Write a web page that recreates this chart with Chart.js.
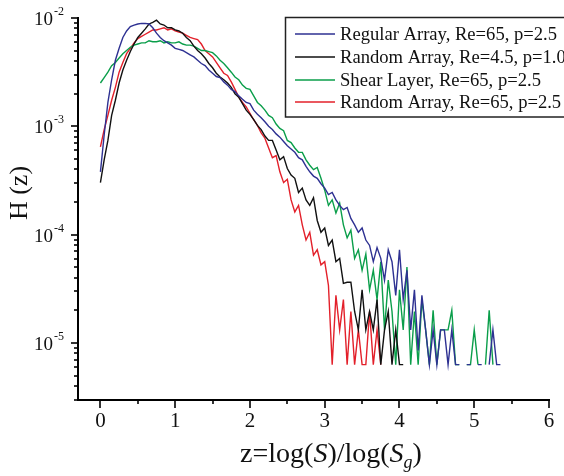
<!DOCTYPE html>
<html>
<head>
<meta charset="utf-8">
<script src="https://cdn.jsdelivr.net/npm/chart.js@4.4.0/dist/chart.umd.min.js"></script>
<style>
  html, body { margin: 0; padding: 0; background: #fff; }
  #wrap { width: 564px; height: 476px; }
</style>
</head>
<body>
<div id="wrap"><canvas id="hz"></canvas></div>
<script>
// z = log(S)/log(Sg) sample points
const zValues = [
  0, 0.05, 0.1, 0.15, 0.2, 0.25, 0.3, 0.35, 0.4, 0.45,
  0.5, 0.55, 0.6, 0.65, 0.7, 0.75, 0.8, 0.85, 0.9, 0.95,
  1, 1.05, 1.1, 1.15, 1.2, 1.25, 1.3, 1.35, 1.4, 1.45,
  1.5, 1.55, 1.6, 1.65, 1.7, 1.75, 1.8, 1.85, 1.9, 1.95,
  2, 2.05, 2.1, 2.15, 2.2, 2.25, 2.3, 2.35, 2.4, 2.45,
  2.5, 2.55, 2.6, 2.65, 2.7, 2.75, 2.8, 2.85, 2.9, 2.95,
  3, 3.05, 3.1, 3.15, 3.2, 3.25, 3.3, 3.35, 3.4, 3.45,
  3.5, 3.55, 3.6, 3.65, 3.7, 3.75, 3.8, 3.85, 3.9, 3.95,
  4, 4.05, 4.1, 4.15, 4.2, 4.25, 4.3, 4.35, 4.4, 4.45,
  4.5, 4.55, 4.6, 4.65, 4.7, 4.75, 4.8, 4.85, 4.9, 4.95,
  5, 5.05, 5.1, 5.15, 5.2, 5.25, 5.3, 5.35
];

// H(z) for each case (null = nothing plotted)
const regularArray = [
  3.80e-4, 8.32e-4, 1.66e-3, 2.69e-3, 4.07e-3, 5.25e-3, 6.61e-3, 7.59e-3, 8.32e-3, 8.61e-3,
  8.81e-3, 8.91e-3, 8.91e-3, 8.81e-3, 8.13e-3, 7.24e-3, 6.61e-3, 6.17e-3, 5.89e-3, 5.62e-3,
  5.25e-3, 5.13e-3, 5.01e-3, 4.79e-3, 4.57e-3, 4.37e-3, 4.07e-3, 3.80e-3, 3.63e-3, 3.31e-3,
  3.09e-3, 2.88e-3, 2.82e-3, 2.57e-3, 2.40e-3, 2.19e-3, 2.09e-3, 1.91e-3, 1.78e-3, 1.66e-3,
  1.62e-3, 1.41e-3, 1.29e-3, 1.20e-3, 1.10e-3, 1.00e-3, 9.33e-4, 8.51e-4, 7.94e-4, 7.24e-4,
  6.61e-4, 6.17e-4, 5.75e-4, 5.13e-4, 4.90e-4, 4.27e-4, 3.80e-4, 3.47e-4, 3.31e-4, 2.95e-4,
  2.69e-4, 2.34e-4, 2.45e-4, 2.09e-4, 1.86e-4, 1.70e-4, 1.78e-4, 1.41e-4, 1.23e-4, 1.05e-4,
  1.15e-4, 8.91e-5, 7.94e-5, 5.62e-5, 7.59e-5, 6.03e-5, 3.80e-5, 7.24e-5, 5.62e-5, 2.75e-5,
  7.24e-5, 2.51e-5, 4.68e-5, 1.32e-5, 3.09e-5, 8.5e-6, 2.75e-5, 1.32e-5, 6.3e-6, 1.32e-5,
  6.3e-6, 1.32e-5, 1.32e-5, 6.3e-6, 1.32e-5, 6.3e-6, 6.3e-6, null, 6.3e-6, 6.3e-6,
  null, 6.3e-6, 6.3e-6, null, 6.3e-6, 1.32e-5, 6.3e-6, 6.3e-6
];
const randomArrayLowRe = [
  3.02e-4, 4.90e-4, 7.41e-4, 1.26e-3, 1.74e-3, 2.51e-3, 3.31e-3, 4.07e-3, 4.90e-3, 5.75e-3,
  6.61e-3, 7.24e-3, 7.94e-3, 8.81e-3, 9.12e-3, 9.55e-3, 8.81e-3, 8.61e-3, 8.13e-3, 8.13e-3,
  7.76e-3, 7.59e-3, 7.24e-3, 6.61e-3, 6.17e-3, 5.50e-3, 5.01e-3, 4.68e-3, 4.27e-3, 3.80e-3,
  3.47e-3, 3.09e-3, 2.85e-3, 2.69e-3, 2.51e-3, 2.29e-3, 2.00e-3, 1.86e-3, 1.62e-3, 1.41e-3,
  1.29e-3, 1.15e-3, 1.02e-3, 9.33e-4, 8.13e-4, 7.41e-4, 7.41e-4, 6.03e-4, 4.90e-4, 5.25e-4,
  4.07e-4, 3.55e-4, 3.31e-4, 2.45e-4, 2.69e-4, 2.09e-4, 1.86e-4, 2.19e-4, 1.35e-4, 1.05e-4,
  1.15e-4, 7.94e-5, 8.91e-5, 5.62e-5, 6.03e-5, 3.55e-5, 3.63e-5, 3.63e-5, 1.95e-5, 1.32e-5,
  3.09e-5, 1.32e-5, 1.95e-5, 1.32e-5, 2.51e-5, 6.3e-6, 1.32e-5, 1.95e-5, 6.3e-6, 1.32e-5,
  6.3e-6, 6.3e-6
];
const shearLayer = [
  2.51e-3, 2.82e-3, 3.16e-3, 3.63e-3, 3.89e-3, 4.27e-3, 4.68e-3, 5.01e-3, 5.37e-3, 5.62e-3,
  5.75e-3, 5.89e-3, 5.89e-3, 6.17e-3, 6.03e-3, 6.03e-3, 6.17e-3, 5.89e-3, 6.03e-3, 5.89e-3,
  5.89e-3, 6.03e-3, 5.75e-3, 5.62e-3, 5.62e-3, 5.50e-3, 5.25e-3, 5.01e-3, 5.01e-3, 4.90e-3,
  4.79e-3, 4.47e-3, 4.07e-3, 3.80e-3, 3.47e-3, 3.16e-3, 2.85e-3, 2.69e-3, 2.40e-3, 2.24e-3,
  2.19e-3, 1.91e-3, 1.66e-3, 1.55e-3, 1.41e-3, 1.26e-3, 1.20e-3, 1.05e-3, 9.55e-4, 9.12e-4,
  7.41e-4, 7.08e-4, 6.31e-4, 5.75e-4, 5.75e-4, 4.90e-4, 4.37e-4, 3.98e-4, 4.17e-4, 3.31e-4,
  2.57e-4, 1.86e-4, 2.09e-4, 1.58e-4, 1.95e-4, 1.23e-4, 9.33e-5, 1.10e-4, 6.03e-5, 7.24e-5,
  4.68e-5, 6.61e-5, 3.09e-5, 4.68e-5, 2.51e-5, 5.62e-5, 1.32e-5, 3.80e-5, 1.95e-5, 6.3e-6,
  3.09e-5, 1.32e-5, 5.01e-5, 6.3e-6, 1.95e-5, 6.3e-6, 2.51e-5, 1.32e-5, 6.3e-6, 2.0e-5,
  6.3e-6, 1.32e-5, 1.32e-5, 1.32e-5, 2.0e-5, 6.3e-6, 6.3e-6, null, 6.3e-6, 6.3e-6,
  1.32e-5, 6.3e-6, null, 6.3e-6, 2.0e-5, 6.3e-6
];
const randomArrayHighRe = [
  6.46e-4, 9.33e-4, 1.26e-3, 1.74e-3, 2.29e-3, 3.16e-3, 3.89e-3, 4.68e-3, 5.25e-3, 5.89e-3,
  6.46e-3, 6.76e-3, 7.08e-3, 7.41e-3, 7.76e-3, 7.76e-3, 7.94e-3, 8.13e-3, 7.76e-3, 7.94e-3,
  7.59e-3, 7.41e-3, 7.24e-3, 6.92e-3, 6.61e-3, 6.46e-3, 6.31e-3, 5.75e-3, 5.01e-3, 4.68e-3,
  4.37e-3, 3.89e-3, 3.47e-3, 3.09e-3, 2.95e-3, 2.57e-3, 2.19e-3, 1.86e-3, 1.66e-3, 1.51e-3,
  1.32e-3, 1.15e-3, 1.02e-3, 8.71e-4, 7.76e-4, 6.31e-4, 5.13e-4, 5.37e-4, 3.80e-4, 3.02e-4,
  3.24e-4, 2.09e-4, 1.62e-4, 1.86e-4, 1.23e-4, 8.91e-5, 1.05e-4, 6.46e-5, 7.24e-5, 5.25e-5,
  5.62e-5, 3.39e-5, 6.3e-6, 2.75e-5, 1.32e-5, 2.51e-5, 6.3e-6, 1.95e-5, 6.3e-6, 1.32e-5,
  6.3e-6, 6.3e-6, 1.95e-5, 6.3e-6, 1.32e-5, 6.3e-6
];

const seriesLabels = [
  'Regular Array, Re=65, p=2.5',
  'Random Array, Re=4.5, p=1.0',
  'Shear Layer, Re=65, p=2.5',
  'Random Array, Re=65, p=2.5'
];
const seriesColors = ['#2e3192', '#111111', '#0a9e4a', '#e3202a'];

// axis ticks
const xMajorTicks = [0, 1, 2, 3, 4, 5, 6];
const xMinorTicks = [0.5, 1.5, 2.5, 3.5, 4.5, 5.5];
const yMajorTicks = [1e-2, 1e-3, 1e-4, 1e-5];
const yExponents = ['-2', '-3', '-4', '-5'];
const yMinorTicks = [
  9e-3, 8e-3, 7e-3, 6e-3, 5e-3, 4e-3, 3e-3, 2e-3,
  9e-4, 8e-4, 7e-4, 6e-4, 5e-4, 4e-4, 3e-4, 2e-4,
  9e-5, 8e-5, 7e-5, 6e-5, 5e-5, 4e-5, 3e-5, 2e-5,
  9e-6, 8e-6, 7e-6, 6e-6, 5e-6, 4e-6, 3e-6
];

const SERIF = '"Liberation Serif", "Times New Roman", serif';

function toPoints(vals) {
  return vals.map((v, i) => ({ x: zValues[i], y: v }));
}

const allSeries = [regularArray, randomArrayLowRe, shearLayer, randomArrayHighRe];

const decorPlugin = {
  id: 'decor',
  afterDraw(chart) {
    const ctx = chart.ctx;
    const xs = chart.scales.x;
    const ys = chart.scales.y;
    const area = chart.chartArea;
    ctx.save();
    ctx.strokeStyle = '#000';
    ctx.fillStyle = '#111';
    ctx.lineWidth = 1.6;

    // x ticks + labels
    const tick = (x1, y1, x2, y2) => {
      ctx.beginPath(); ctx.moveTo(x1, y1); ctx.lineTo(x2, y2); ctx.stroke();
    };
    xMajorTicks.forEach(v => {
      const px = Math.round(xs.getPixelForValue(v));
      tick(px, area.bottom, px, area.bottom + 8);
    });
    xMinorTicks.forEach(v => {
      const px = Math.round(xs.getPixelForValue(v));
      tick(px, area.bottom, px, area.bottom + 4);
    });
    ctx.font = '21px ' + SERIF;
    ctx.textAlign = 'center';
    ctx.textBaseline = 'top';
    xMajorTicks.forEach(v => {
      ctx.fillText(String(v), xs.getPixelForValue(v), area.bottom + 11);
    });

    // y ticks + labels
    yMajorTicks.forEach(v => {
      const py = Math.round(ys.getPixelForValue(v));
      tick(area.left - 7, py, area.left, py);
    });
    yMinorTicks.forEach(v => {
      const py = Math.round(ys.getPixelForValue(v));
      tick(area.left - 4, py, area.left, py);
    });
    yMajorTicks.forEach((v, i) => {
      const py = ys.getPixelForValue(v);
      ctx.font = '19px ' + SERIF;
      ctx.textAlign = 'right';
      ctx.textBaseline = 'middle';
      ctx.fillText('10', 53, py + 2);
      ctx.font = '12px ' + SERIF;
      ctx.textAlign = 'left';
      ctx.textBaseline = 'alphabetic';
      ctx.fillText(yExponents[i], 54, py - 3);
    });

    // axis titles
    const parts = [
      ['z=log(', '', 0], ['S', 'italic ', 0], [')/log(', '', 0],
      ['S', 'italic ', 0], ['g', 'italic ', 1], [')', '', 0]
    ];
    const fontFor = p => p[1] + (p[2] ? '18px ' : '28px ') + SERIF;
    let total = 0;
    parts.forEach(p => { ctx.font = fontFor(p); total += ctx.measureText(p[0]).width; });
    let cx = 331 - total / 2;
    ctx.textAlign = 'left';
    ctx.textBaseline = 'alphabetic';
    parts.forEach(p => {
      ctx.font = fontFor(p);
      ctx.fillText(p[0], cx, 462 + (p[2] ? 6 : 0));
      cx += ctx.measureText(p[0]).width;
    });

    ctx.save();
    ctx.translate(20, 193);
    ctx.rotate(-Math.PI / 2);
    ctx.font = '26px ' + SERIF;
    ctx.textAlign = 'center';
    ctx.textBaseline = 'middle';
    ctx.fillText('H (z)', 0, 0);
    ctx.restore();

    // legend box
    ctx.fillStyle = '#fff';
    ctx.fillRect(285, 17, 300, 100);
    ctx.strokeStyle = '#222';
    ctx.lineWidth = 1.5;
    ctx.strokeRect(285.5, 17.5, 300, 99.5);
    const rows = [34, 57, 80, 102];
    chart.data.datasets.forEach((ds, i) => {
      ctx.strokeStyle = ds.borderColor;
      ctx.lineWidth = 1.4;
      tick(295, rows[i], 335, rows[i]);
      ctx.fillStyle = '#111';
      ctx.font = '18.6px ' + SERIF;
      ctx.textAlign = 'left';
      ctx.textBaseline = 'middle';
      ctx.fillText(ds.label, 340, rows[i] + 1);
    });
    ctx.restore();
  }
};

new Chart(document.getElementById('hz'), {
  type: 'line',
  data: {
    datasets: allSeries.map((vals, i) => ({
      label: seriesLabels[i],
      data: toPoints(vals),
      borderColor: seriesColors[i],
      borderWidth: 1.4,
      pointRadius: 0,
      tension: 0,
      fill: false
    }))
  },
  options: {
    responsive: true,
    maintainAspectRatio: false,
    animation: false,
    layout: { padding: { left: 0, right: 15, top: 18, bottom: 0 } },
    plugins: { legend: { display: false }, tooltip: { enabled: false } },
    scales: {
      x: {
        type: 'linear',
        min: -0.3,
        max: 6,
        grid: { display: false },
        ticks: { display: false },
        border: { display: true, color: '#000', width: 2 },
        afterFit: s => { s.height = 76; }
      },
      y: {
        type: 'logarithmic',
        min: 2.97e-6,
        max: 1e-2,
        grid: { display: false },
        ticks: { display: false },
        border: { display: true, color: '#000', width: 2 },
        afterFit: s => { s.width = 78; }
      }
    }
  },
  plugins: [decorPlugin]
});
</script>
</body>
</html>
